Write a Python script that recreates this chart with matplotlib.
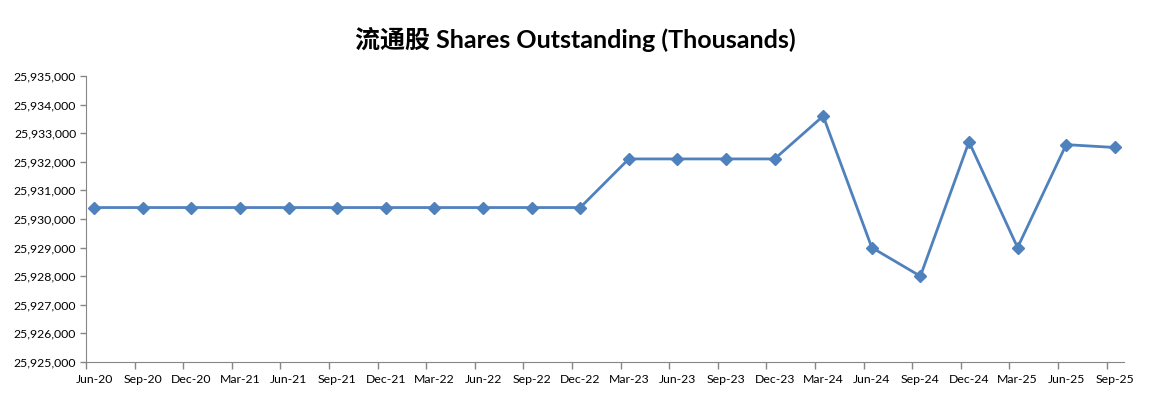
import matplotlib.pyplot as plt
from matplotlib.ticker import FuncFormatter

quarters = ["Jun-20", "Sep-20", "Dec-20", "Mar-21", "Jun-21", "Sep-21", "Dec-21", "Mar-22",
            "Jun-22", "Sep-22", "Dec-22", "Mar-23", "Jun-23", "Sep-23", "Dec-23", "Mar-24",
            "Jun-24", "Sep-24", "Dec-24", "Mar-25", "Jun-25", "Sep-25"]
shares = [25930400, 25930400, 25930400, 25930400, 25930400, 25930400, 25930400, 25930400,
          25930400, 25930400, 25930400, 25932100, 25932100, 25932100, 25932100, 25933600,
          25929000, 25928000, 25932700, 25929000, 25932600, 25932500]

plt.rcParams["font.family"] = ["Lato", "Noto Sans CJK SC", "DejaVu Sans"]

fig = plt.figure(figsize=(11.59, 3.97), dpi=100)
ax = fig.add_axes([0.0742, 0.0882, 0.8956, 0.7204])

x = list(range(len(quarters)))
ax.plot(x, shares, color="#4F81BD", linewidth=2.0, marker="D", markersize=6,
        markerfacecolor="#4F81BD", markeredgecolor="#4F81BD")

ax.set_ylim(25925000, 25935000)
ax.set_yticks(range(25925000, 25935001, 1000))
ax.yaxis.set_major_formatter(FuncFormatter(lambda v, p: f"{int(v):,}"))

ax.set_xlim(-0.17, len(quarters) - 1 + 0.19)
ax.set_xticks(x)
ax.set_xticklabels(quarters)
ax.set_xticks([i - 0.17 for i in x], minor=True)
ax.tick_params(axis="x", which="major", length=0, pad=9, labelsize=8.8)
ax.tick_params(axis="x", which="minor", length=5, width=1, color="#868686", direction="out")
ax.tick_params(axis="y", length=4, width=1, color="#868686", labelsize=8.8, pad=3)

for side in ["top", "right"]:
    ax.spines[side].set_visible(False)
for side in ["left", "bottom"]:
    ax.spines[side].set_color("#868686")

fig.text(0.496, 0.9, "流通股 Shares Outstanding (Thousands)", ha="center", va="center",
         fontsize=18, fontweight="bold")

plt.savefig("out.png", dpi=100)
plt.close()
